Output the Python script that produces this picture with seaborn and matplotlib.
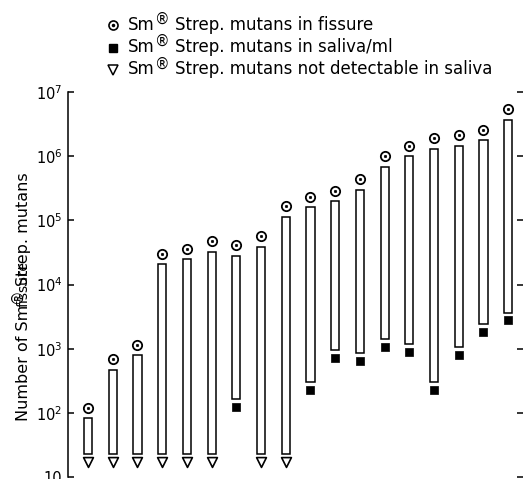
import numpy as np
import pandas as pd
import matplotlib
matplotlib.use("Agg")
import matplotlib.pyplot as plt
from matplotlib.lines import Line2D
from matplotlib.transforms import IdentityTransform
from matplotlib.ticker import FixedLocator, FuncFormatter, NullLocator
import seaborn as sns

# ---- data ----
subjects = list(range(1, 19))
fissure = [120, 680, 1150, 30000, 36000, 47000, 41000, 56000, 165000,
           235000, 290000, 440000, 1.0e6, 1.45e6, 1.9e6, 2.1e6, 2.6e6, 5.4e6]
saliva = [np.nan, np.nan, np.nan, np.nan, np.nan, np.nan, 125, np.nan, np.nan,
          230, 720, 650, 1070, 900, 230, 810, 1850, 2750]
not_detectable_level = 17     # where the "not detectable" triangles sit
bar_floor = 23                # lower end of bars when saliva is not detectable
yticks = [10, 1e2, 1e3, 1e4, 1e5, 1e6, 1e7]

legend_texts = ["Strep. mutans in fissure",
                "Strep. mutans in saliva/ml",
                "Strep. mutans not detectable in saliva"]
ylabel_parts = ["Number of Sm", "Strep. mutans"]
REG = "\u00ae"

# ---- styling ----
sns.set_style("white")
plt.rcParams["font.family"] = ["DejaVu Sans"]
plt.rcParams["text.color"] = "black"
plt.rcParams["axes.labelcolor"] = "black"
plt.rcParams["ytick.color"] = "black"

df = pd.DataFrame({"subject": subjects, "fissure": fissure, "saliva": saliva})
df["pos"] = np.arange(len(df))
gap_top = 1.46     # bar ends a little below the circle
gap_bottom = 1.32  # bar ends a little above the square
df["bar_top"] = df["fissure"] / gap_top
df["bar_bottom"] = np.where(df["saliva"].notna(), df["saliva"] * gap_bottom, bar_floor)
nd = df[df["saliva"].isna()].copy()
nd["level"] = not_detectable_level
det = df[df["saliva"].notna()]

W, H = 524, 479
fig = plt.figure(figsize=(W / 100, H / 100), dpi=100)
renderer = fig.canvas.get_renderer()
ax = fig.add_axes([68 / W, 1 - 477 / H, (523 - 68) / W, (477 - 92) / H])
ax.set_yscale("log")
ax.set_ylim(10, 1e7)
ax.set_xlim(-0.81, 17.6)

ax.bar(df["pos"], df["bar_top"] - df["bar_bottom"], bottom=df["bar_bottom"],
       width=0.33, color="white", edgecolor="black", linewidth=1.1, zorder=2)

sns.scatterplot(data=df, x="pos", y="fissure", marker="o", s=45,
                facecolor="white", edgecolor="black", linewidth=1.3, ax=ax,
                zorder=3, legend=False)
sns.scatterplot(data=df, x="pos", y="fissure", marker="o", s=3,
                color="black", edgecolor="black", linewidth=0.5, ax=ax,
                zorder=4, legend=False)
sns.scatterplot(data=det, x="pos", y="saliva", marker="s", s=32,
                color="black", edgecolor="black", linewidth=0.5, ax=ax,
                zorder=3, legend=False)
sns.scatterplot(data=nd, x="pos", y="level", marker="v", s=50,
                facecolor="white", edgecolor="black", linewidth=1.2, ax=ax,
                zorder=3, legend=False)

# axes
for s in ["top", "bottom", "right"]:
    ax.spines[s].set_visible(False)
ax.spines["left"].set_color("black")
ax.spines["left"].set_linewidth(1.1)
ax.set_xticks([])
ax.set_xlabel("")
ax.yaxis.set_major_locator(FixedLocator(yticks))
ax.yaxis.set_minor_locator(NullLocator())
ax.yaxis.set_major_formatter(FuncFormatter(
    lambda v, p: "10" if np.isclose(v, 10) else r"$10^{%d}$" % int(round(np.log10(v)))))
ax.tick_params(axis="y", which="major", direction="in", length=4, width=1.1,
               color="black", left=True, right=True, labelsize=10.5, pad=4,
               labelcolor="black")


def text_width(s, size):
    t = fig.text(0, 0, s, fontsize=size, transform=IdentityTransform())
    w = t.get_window_extent(renderer).width
    t.remove()
    return w


def pieces_h(x, y, parts):
    """Horizontal text parts one after another (pixel coords, y from top)."""
    adv = 0.0
    for s, size, rise, gap in parts:
        fig.text(x + adv, (H - y) + rise, s, fontsize=size,
                 transform=IdentityTransform(), ha="left", va="baseline",
                 color="black")
        adv += text_width(s, size) + gap


def pieces_v(x, y, parts):
    """Upward (rotated 90) text parts; x is the baseline, y the start."""
    adv = 0.0
    for s, size, rise, gap in parts:
        descent = 0.236 * size * 100 / 72
        fig.text(x + descent - rise, (H - y) + adv, s, fontsize=size,
                 transform=IdentityTransform(), ha="right", va="bottom",
                 rotation=90, color="black")
        adv += text_width(s, size) + gap


# y label with a raised, large registered sign
pieces_v(27, 421, [(ylabel_parts[0], 11.5, 0, 2),
                   (REG, 10.5, 6, 2),
                   (ylabel_parts[1], 11.5, 0, 0)])

# legend
mk_x = 113
rows = [29.5, 52, 74.5]
glyphs = [
    [dict(marker="o", ms=6.5, mfc="white", mec="black", mew=1.2),
     dict(marker="o", ms=1.5, mfc="black", mec="black")],
    [dict(marker="s", ms=5.5, mfc="black", mec="black")],
    [dict(marker="v", ms=7.5, mfc="white", mec="black", mew=1.1)],
]
for base, gl, txt in zip(rows, glyphs, legend_texts):
    for g in gl:
        fig.add_artist(Line2D([mk_x / W], [1 - (base - 4.5) / H], ls="",
                              transform=fig.transFigure, **g))
    pieces_h(128, base, [("Sm", 12, 0, 0.5), (REG, 10.5, 6, 5), (txt, 12, 0, 0)])

fig.savefig("out.png", dpi=100, facecolor="white")
